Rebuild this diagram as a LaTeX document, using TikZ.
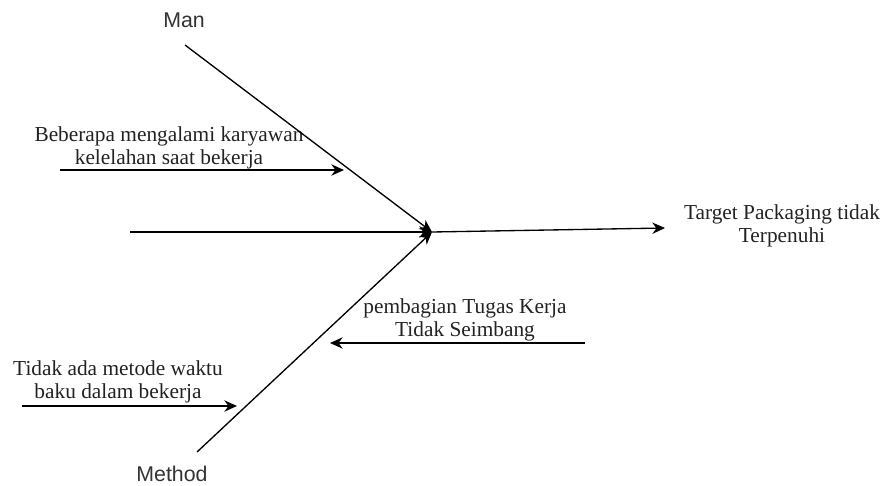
\documentclass[tikz,border=0pt]{standalone}
\usepackage{fontspec}
\setmainfont{Liberation Serif}
\newfontfamily\labelfont{Liberation Sans}
\usetikzlibrary{arrows.meta}
\definecolor{txt}{HTML}{222222}
\definecolor{lbl}{HTML}{333333}
\tikzset{
  bone/.style={line width=1pt, -{Stealth[length=9.5pt,width=8.5pt]}},
  cause/.style={font=\fontsize{16}{17.3}\selectfont, text=txt, align=center, inner sep=0pt},
  catlabel/.style={font=\labelfont\fontsize{16}{17.3}\selectfont, text=lbl, inner sep=0pt}
}
\begin{document}
\begin{tikzpicture}[x=0.75pt,y=-0.75pt]
\useasboundingbox (0,0) rectangle (884,485);
% junction and bone ends
\coordinate (J) at (432,232);
\coordinate (manS) at (185,45);
\coordinate (methS) at (197,452);
\coordinate (spineS) at (130,232);
\coordinate (headE) at (665,228);
\coordinate (c1S) at (60,170);
\coordinate (c1E) at (344,170);
\coordinate (c2S) at (585,343);
\coordinate (c2E) at (330,343);
\coordinate (c3S) at (22,406);
\coordinate (c3E) at (237,406);
% labels
\node[catlabel] (man) at (184,20) {Man};
\node[catlabel] (method) at (172,474) {Method};
\node[cause] (target) at (782,226) {Target Packaging tidak\\Terpenuhi};
\node[cause] (t1) at (169,148) {Beberapa mengalami karyawan\\kelelahan saat bekerja};
\node[cause] (t2) at (465,320) {pembagian Tugas Kerja\\Tidak Seimbang};
\node[cause] (t3) at (118,382) {Tidak ada metode waktu\\baku dalam bekerja};
% bones
\draw[bone] (manS) -- (J);
\draw[bone] (methS) -- (J);
\draw[bone] (spineS) -- (J);
\draw[bone] (J) -- (headE);
\draw[bone] (c1S) -- (c1E);
\draw[bone] (c2S) -- (c2E);
\draw[bone] (c3S) -- (c3E);
\end{tikzpicture}
\end{document}
